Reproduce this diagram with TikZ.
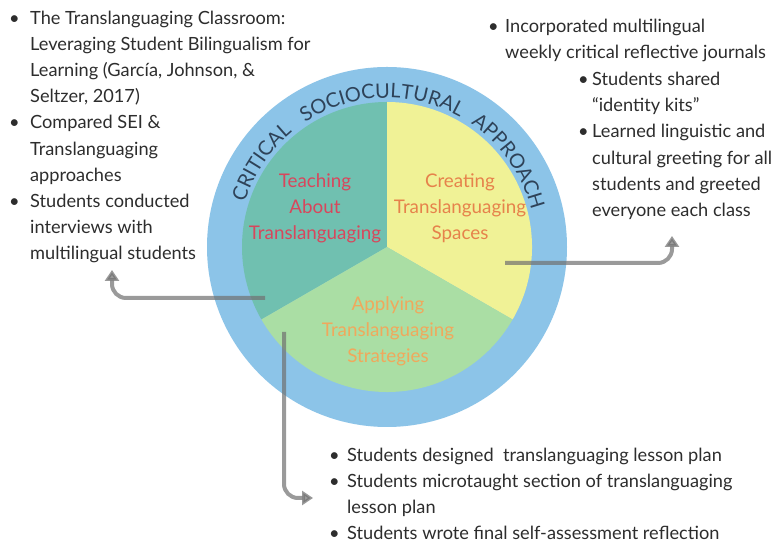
\documentclass[tikz,border=0pt]{standalone}
\usepackage{fontspec}
\setmainfont{Lato}
\usetikzlibrary{positioning,arrows.meta,decorations.text}
\definecolor{ringColor}{RGB}{140,196,232}
\definecolor{teachColor}{RGB}{112,192,176}
\definecolor{createColor}{RGB}{240,242,150}
\definecolor{applyColor}{RGB}{170,222,164}
\definecolor{teachText}{RGB}{216,70,92}
\definecolor{createText}{RGB}{230,130,75}
\definecolor{applyText}{RGB}{240,168,92}
\definecolor{arcText}{RGB}{46,66,88}
\definecolor{listColor}{RGB}{45,45,45}
\definecolor{arrowColor}{RGB}{112,112,112}
\tikzstyle{diagram} = [x = 1pt, y = 1pt]
\tikzstyle{sectorText} = [align=center, inner sep=0pt, anchor=base, font=\fontsize{18.8}{26}\selectfont]
\tikzstyle{listText} = [align=left, inner sep=0pt, anchor=base west, text=listColor, font=\fontsize{18.2}{26.2}\selectfont]
\tikzstyle{arrowLine} = [draw=arrowColor, opacity=0.7, line width=4pt, rounded corners=14pt, -{Triangle[width=14pt,length=11pt]}]
\newcommand{\rOut}{180}
\newcommand{\rIn}{145}
\newcommand{\rText}{149}
\newcommand{\arcFont}{\fontsize{20}{24}\selectfont}
\newcommand{\listBullet}[1]{\makebox[#1][l]{\textbullet}}
\newcommand{\listIndent}[1]{\makebox[#1]{}}
\newcommand{\sector}[3]{\fill [#1] (center) -- ++(#2:\rIn) arc (#2:#3:\rIn) -- cycle;}
\newcommand{\arcWord}[2]{\path [shift={(center)}, decorate, decoration={text along path, text align=center,
    text={|\arcFont\color{arcText}|#1}}] ({#2+40}:\rText) arc ({#2+40}:{#2-40}:\rText);}

\begin{document}
\begin{tikzpicture}[diagram]
  \useasboundingbox [fill=white] (0,0) rectangle (772,545);
  \coordinate (center) at (387,298);

  % ring and pie
  \fill [ringColor] (center) circle (\rOut);
  \sector{teachColor}{90}{210}
  \sector{createColor}{-30}{90}
  \sector{applyColor}{210}{330}
  \arcWord{CRITICAL}{146}
  \arcWord{SOCIOCULTURAL}{92}
  \arcWord{APPROACH}{35}

  % labels (base anchor sits on the last line)
  \node [sectorText, text=teachText] (teachLabel) at (315,305.5) {Teaching\\About\\Translanguaging};
  \node [sectorText, text=createText] (createLabel) at (460,305.5) {Creating\\Translanguaging\\Spaces};
  \node [sectorText, text=applyText] (applyLabel) at (388,182.5) {Applying\\Translanguaging\\Strategies};

  % lists
  \node [listText] (leftList) at (9,285) {\listBullet{21pt}The Translanguaging Classroom:\\
    \listIndent{21pt}Leveraging Student Bilingualism for\\
    \listIndent{21pt}Learning (García, Johnson, \&\\
    \listIndent{21pt}Seltzer, 2017)\\
    \listBullet{21pt}Compared SEI \&\\
    \listIndent{21pt}Translanguaging\\
    \listIndent{21pt}approaches\\
    \listBullet{21pt}Students conducted\\
    \listIndent{21pt}interviews with\\
    \listIndent{21pt}multilingual students};
  \node [listText] (rightListTop) at (488,486.5) {\listBullet{17pt}Incorporated multilingual\\
    \listIndent{17pt}weekly critical reflective journals};
  \node [listText] (rightListBottom) at (578,328.5) {\listBullet{14pt}Students shared\\
    \listIndent{14pt}“identity kits”\\
    \listBullet{14pt}Learned linguistic and\\
    \listIndent{14pt}cultural greeting for all\\
    \listIndent{14pt}students and greeted\\
    \listIndent{14pt}everyone each class};
  \node [listText] (bottomList) at (329,5) {\listBullet{18pt}Students designed\ \ translanguaging lesson plan\\
    \listBullet{18pt}Students microtaught section of translanguaging\\
    \listIndent{18pt}lesson plan\\
    \listBullet{18pt}Students wrote final self-assessment reflection};

  % arrows
  \coordinate (teachStart) at (265,247);
  \coordinate (teachTip) at (112,275);
  \coordinate (createStart) at (505,282);
  \coordinate (createTip) at (672,309);
  \coordinate (applyStart) at (284,213);
  \coordinate (applyTip) at (313,47);
  \draw [arrowLine] (teachStart) -| (teachTip);
  \draw [arrowLine] (createStart) -| (createTip);
  \draw [arrowLine] (applyStart) |- (applyTip);
\end{tikzpicture}
\end{document}
